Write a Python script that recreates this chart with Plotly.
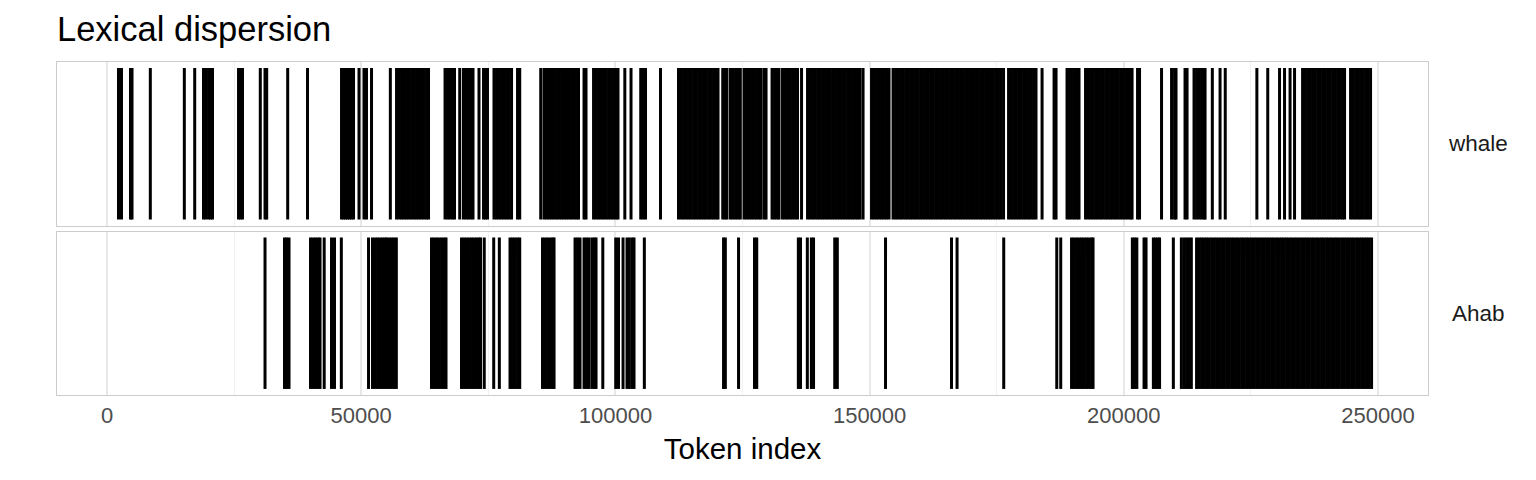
import plotly.graph_objects as go
from plotly.subplots import make_subplots

# ---- data: token positions of each word occurrence ----
terms = ["whale", "Ahab"]

whale_positions = [
    2260, 2850, 4620, 4920, 8520, 15210, 17250, 18980, 19380, 19970, 20360, 20750,
    25870, 26260, 26650, 30150, 31080, 31410, 35540, 39440,
    46130, 46520, 46910, 47310, 47700, 48090, 48490, 49570, 50550, 51040, 52030,
    55730, 56950, 57440, 57930, 58420, 58910, 59400, 59900, 60390, 60880, 61370, 61860, 62350, 62850, 63240,
    66490, 66980, 67470, 67960, 68350, 69380, 70120, 70620, 71110, 71600, 71990, 73170, 74060, 74450, 74840,
    76120, 76620, 77110, 77600, 78090, 78580, 79070, 79570, 80750, 81180,
    85310, 85960, 86450, 86940, 87430, 87930, 88420, 88910, 89400, 89890, 90380, 90880, 91370, 91860, 92350, 92740,
    93830, 94220, 95700, 96190, 96680, 97170, 97660, 98150, 98650, 99140, 99630, 100120, 100510,
    101850, 103070, 104980, 105430, 105920, 108870,
    112410, 112910, 113400, 113890, 114380, 114870, 115370, 115860, 116350, 116840, 117330, 117820, 118320,
    118810, 119300, 119790, 120180,
    121110, 121560, 121950, 122640, 123130, 123630, 124120, 124570,
    125300, 125790, 126280, 126770, 127270, 127760, 128250, 128640, 129230, 129630,
    130810, 131300, 131790, 132180, 132870, 133360, 133850, 134350, 134840, 135330, 135820, 136610,
    137790, 138280, 138770, 139260, 139760, 140250, 140740, 141230, 141720, 142210, 142710, 143200, 143690,
    144180, 144670, 145170, 145660, 146150, 146640, 147130, 147620, 148120, 148710,
    150380, 150870, 151360, 151850, 152340, 152840, 153330, 153820,
    154610, 155100, 155590, 156080, 156570, 157070, 157560, 158050, 158540, 159030, 159520, 160020, 160510,
    161000, 161490, 161980, 162470, 162970, 163460, 163950, 164440, 164930, 165430, 165920, 166410, 166900,
    167390, 167880, 168380, 168870, 169360, 169850, 170340, 170830, 171330, 171820, 172310, 172800, 173290,
    173780, 174280, 174770, 175260, 175750, 176340,
    177330, 177820, 178310, 178800, 179290, 179780, 180280, 180770, 181260, 181750, 182240, 182730,
    183920, 186280, 186670, 188830, 189320, 189820, 190310, 190800, 191190,
    192470, 192960, 193450, 193950, 194440, 194930, 195420, 195910, 196410, 196900, 197390, 197880, 198370,
    198860, 199360, 199850, 200340, 200830, 201320, 201620,
    202700, 203090, 207420, 209390, 209980, 210270, 212040, 212440,
    213810, 214310, 214800, 215290, 215780, 215980, 217410, 218930, 219950,
    226170, 228310, 230630, 231610, 232700, 233580,
    235160, 235650, 236140, 236630, 237120, 237610, 238110, 238600, 239090, 239580, 240070, 240560, 241060,
    241550, 242040, 242530, 243020, 243420,
    244600, 245090, 245580, 246070, 246560, 247060, 247550, 248040, 248530,
]

ahab_positions = [
    31080, 34910, 35310, 35800,
    40030, 40520, 41010, 41500, 41900, 42720, 44160, 44750, 46090,
    51440, 52220, 52720, 53210, 53700, 54190, 54680, 54980, 55470, 55960, 56450, 56910,
    63830, 64320, 64810, 65300, 65800, 66290, 66680,
    69730, 70220, 70710, 71210, 71700, 72190, 72680, 73170, 73470, 74200, 76060, 77170,
    79270, 79760, 80250, 80750, 81180,
    85660, 86160, 86650, 87140, 87630, 87930,
    92060, 92550, 93040, 93830, 94320, 94810, 95400, 95890, 96190, 97520,
    100060, 100610, 101500, 102280, 102740, 103270, 103660, 105690,
    121270, 121620, 124220, 127360, 127800,
    135980, 136410, 137750, 138540, 138970, 143140, 143650,
    153130, 166110, 167200, 176380,
    186810, 187590,
    189720, 190210, 190700, 191190, 191680, 192180, 192670, 193160, 193650, 193950,
    201680, 202110, 202560, 203980, 204370,
    205810, 206240, 206730, 207030, 209740,
    211320, 211850, 212340, 212830, 213280,
    214310, 214800, 215290, 215780, 216270, 216760, 217260, 217750, 218240, 218730, 219220, 219710, 220210,
    220700, 221190, 221680, 222170, 222670, 223160, 223650, 224140, 224630, 225120, 225620, 226110, 226600,
    227090, 227580, 228070, 228570, 229060, 229550, 230040, 230530, 231020, 231520, 232010, 232500, 232990,
    233480, 233970, 234470, 234960, 235450, 235940, 236430, 236930, 237420, 237910, 238400, 238890, 239380,
    239880, 240370, 240860, 241350, 241840, 242330, 242830, 243320, 243810, 244300, 244790, 245280, 245780,
    246270, 246760, 247250, 247740, 248240, 248730,
]

x_tick_values = [0, 50000, 100000, 150000, 200000, 250000]
x_tick_labels = ["0", "50000", "100000", "150000", "200000", "250000"]

title_text = "Lexical dispersion"
x_title = "Token index"

# ---- figure ----
W, H = 1536, 480
ML, MR, MT, MB = 57, 108, 62, 85
plot_h = H - MT - MB
gap = 6

fig = make_subplots(rows=2, cols=1, shared_xaxes=True,
                    vertical_spacing=gap / plot_h)


def segments(positions):
    xs, ys = [], []
    for p in positions:
        xs += [p, p, None]
        ys += [0, 1, None]
    return xs, ys


for i, pos in enumerate([whale_positions, ahab_positions]):
    xs, ys = segments(pos)
    fig.add_trace(go.Scatter(x=xs, y=ys, mode="lines",
                             line=dict(color="black", width=3.0),
                             hoverinfo="skip", showlegend=False),
                  row=i + 1, col=1)

xrange = [-9835, 259830]
for r in (1, 2):
    fig.update_xaxes(range=xrange, row=r, col=1,
                     showgrid=True, gridcolor="#e8e8e8", gridwidth=1.5,
                     minor=dict(showgrid=True, gridcolor="#f2f2f2", gridwidth=0.9,
                                tick0=0, dtick=25000),
                     zeroline=False, showline=True, mirror=True,
                     linecolor="#cccccc", linewidth=1.3,
                     tickvals=x_tick_values, ticktext=x_tick_labels,
                     ticks="", tickfont=dict(family="Liberation Sans", size=22, color="#4d4d4d"))
    fig.update_yaxes(range=[-0.04, 1.04], row=r, col=1,
                     showgrid=False, zeroline=False, showticklabels=False,
                     showline=True, mirror=True, linecolor="#cccccc", linewidth=1.3,
                     fixedrange=True)

fig.update_xaxes(showticklabels=False, row=1, col=1)
fig.update_xaxes(title=dict(text=x_title, standoff=11,
                            font=dict(family="Liberation Sans", size=29.5, color="black")),
                 row=2, col=1)

# strip labels
for i, term in enumerate(terms):
    yref = "y domain" if i == 0 else "y2 domain"
    fig.add_annotation(text=term, xref="paper", yref=yref, x=1, y=0.5,
                       xanchor="center", yanchor="middle", xshift=50,
                       showarrow=False,
                       font=dict(family="Liberation Sans", size=22.5, color="#1a1a1a"))

fig.update_layout(
    width=W, height=H,
    margin=dict(l=ML, r=MR, t=MT, b=MB),
    paper_bgcolor="white", plot_bgcolor="white",
    title=dict(text=title_text, x=ML / W, xanchor="left", xref="container",
               y=1 - 29 / H, yref="container", yanchor="middle",
               font=dict(family="Liberation Sans", size=34.5, color="black")),
)

fig.write_html("out.html", config={"displayModeBar": False},
               post_script="document.body.style.margin='0';")
